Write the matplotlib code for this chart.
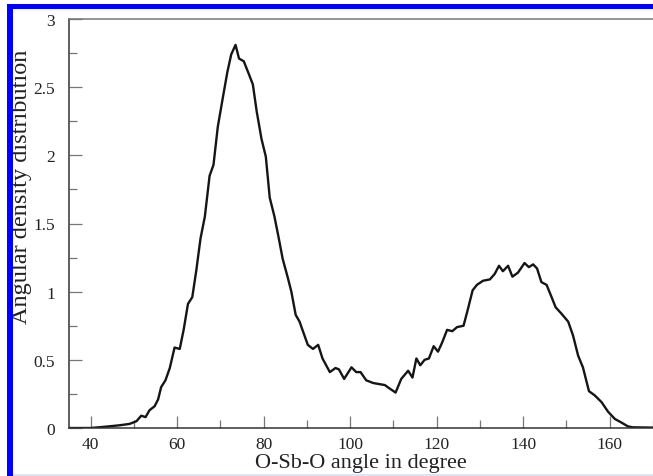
import matplotlib

matplotlib.use("Agg")
import matplotlib.patches
import matplotlib.pyplot as plt
from matplotlib.ticker import MultipleLocator

# angle (degree) and angular density
angle = [35.0, 40.0, 43.6, 46.7, 49.0, 50.6, 51.7, 52.7, 53.6, 54.8, 55.6, 56.3,
         57.3, 58.3, 59.4, 60.6, 61.5, 62.5, 63.5, 64.4, 65.4, 66.4, 67.5, 68.4,
         69.4, 70.6, 71.6, 72.5, 73.5, 74.3, 75.4, 76.4, 77.5, 78.4, 79.5, 80.5,
         81.4, 82.5, 83.5, 84.4, 85.6, 86.4, 87.4, 88.3, 89.3, 90.2, 91.4, 92.6,
         93.6, 95.3, 96.6, 97.4, 98.6, 100.3, 101.4, 102.4, 103.7, 105.3, 108.0,
         109.1, 110.5, 111.8, 113.4, 114.4, 115.3, 116.2, 117.2, 118.2, 119.3,
         120.3, 121.3, 122.4, 123.6, 124.7, 126.2, 127.2, 128.3, 129.3, 130.7,
         132.3, 133.4, 134.4, 135.3, 136.5, 137.5, 138.8, 140.3, 141.3, 142.3,
         143.2, 144.2, 145.4, 146.3, 147.5, 148.8, 150.4, 151.5, 152.7, 153.8,
         155.2, 156.5, 158.1, 159.6, 161.2, 162.7, 164.2, 165.3, 170.0]
density = [0.0, 0.0, 0.01, 0.02, 0.03, 0.05, 0.09, 0.08, 0.13, 0.16, 0.21, 0.30,
           0.35, 0.44, 0.59, 0.58, 0.72, 0.91, 0.96, 1.15, 1.39, 1.55, 1.85, 1.93,
           2.21, 2.43, 2.61, 2.74, 2.81, 2.71, 2.69, 2.61, 2.52, 2.32, 2.12, 1.99,
           1.69, 1.55, 1.39, 1.24, 1.10, 1.00, 0.83, 0.78, 0.69, 0.61, 0.58, 0.61,
           0.51, 0.41, 0.44, 0.43, 0.36, 0.445, 0.41, 0.41, 0.35, 0.33, 0.315,
           0.29, 0.26, 0.36, 0.42, 0.37, 0.51, 0.46, 0.50, 0.51, 0.60,
           0.56, 0.63, 0.72, 0.71, 0.74, 0.75, 0.87, 1.01, 1.05, 1.08,
           1.09, 1.13, 1.19, 1.15, 1.19, 1.11, 1.14, 1.21, 1.18, 1.20,
           1.17, 1.07, 1.05, 0.98, 0.885, 0.84, 0.78, 0.68, 0.53, 0.445,
           0.27, 0.24, 0.19, 0.12, 0.066, 0.04, 0.012, 0.005, 0.003]

x_label = "O-Sb-O angle in degree"
y_label = "Angular density distribution"


def main():
    plt.rcParams["font.family"] = ["Liberation Serif", "DejaVu Serif"]

    fig = plt.figure(figsize=(6.53, 4.77), dpi=100)
    ax = fig.add_axes([69 / 653, 1 - 429 / 477, 1 - 69 / 653, 409 / 477])

    # blue frame on the left and top of the picture
    frame_color = "#0000ff"
    fig.patches.append(matplotlib.patches.Rectangle(
        (7 / 653, 0.0), 6 / 653, 1 - 5 / 477, transform=fig.transFigure,
        facecolor=frame_color, edgecolor="none", zorder=0))
    fig.patches.append(matplotlib.patches.Rectangle(
        (7 / 653, 1 - 10 / 477), 1.0, 5 / 477, transform=fig.transFigure,
        facecolor=frame_color, edgecolor="none", zorder=0))
    fig.patches.append(matplotlib.patches.Rectangle(
        (13 / 653, 0.0), 1.0, 2 / 477, transform=fig.transFigure,
        facecolor="#e0e0ff", edgecolor="none", zorder=0))

    ax.plot(angle, density, color="#151515", linewidth=1.7)

    ax.set_xlim(35, 170)
    ax.set_ylim(0, 3)
    ax.xaxis.set_major_locator(MultipleLocator(20))
    ax.xaxis.set_minor_locator(MultipleLocator(10))
    ax.yaxis.set_major_locator(MultipleLocator(0.5))
    ax.yaxis.set_minor_locator(MultipleLocator(0.25))
    ax.set_yticks([0, 0.5, 1, 1.5, 2, 2.5, 3])
    ax.set_yticklabels(["0", "0.5", "1", "1.5", "2", "2.5", "3"])

    ax.tick_params(which="both", direction="in", color="#777777", width=0.9,
                   labelsize=12.5, labelcolor="#222222")
    ax.tick_params(which="major", length=9)
    ax.tick_params(which="minor", length=5.5)
    ax.tick_params(axis="x", pad=6)
    ax.tick_params(axis="y", pad=10)

    ax.spines["right"].set_visible(False)
    ax.spines["left"].set_color("#333333")
    ax.spines["bottom"].set_color("#333333")
    ax.spines["top"].set_color("#777777")
    for side in ["left", "bottom", "top"]:
        ax.spines[side].set_linewidth(1.1)

    ax.set_xlabel(x_label, fontsize=16, color="#222222")
    ax.set_ylabel(y_label, fontsize=17.5, color="#222222")
    ax.xaxis.set_label_coords(0.5, -0.062)
    ax.yaxis.set_label_coords(-0.064, 0.592)

    fig.savefig("out.png", dpi=100)


if __name__ == "__main__":
    main()
